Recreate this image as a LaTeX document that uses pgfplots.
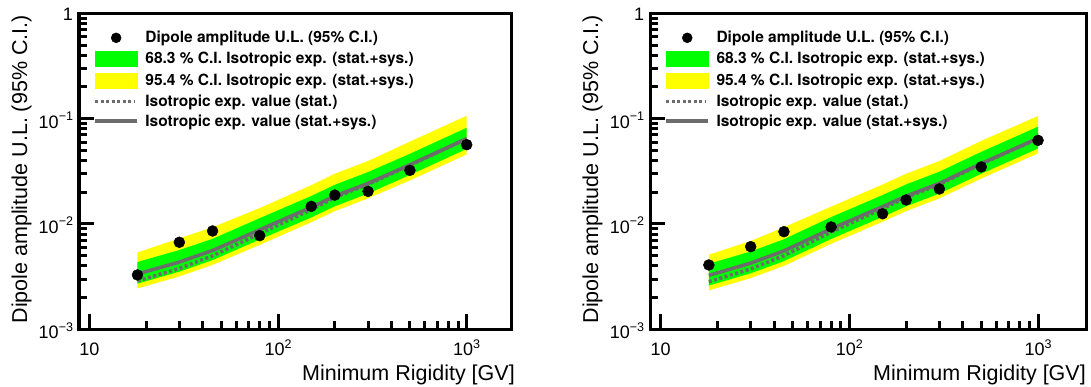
\documentclass[border=0pt]{standalone}
\usepackage{fontspec}
\setmainfont{Liberation Sans}
\newfontfamily\legfamily{TeX Gyre Heros}
\usepackage{pgfplots}
\usepackage{pgfplotstable}
\pgfplotsset{compat=1.18}

\definecolor{rgreen}{RGB}{0,255,0}
\definecolor{ryellow}{RGB}{255,255,0}
\definecolor{rgray}{RGB}{108,108,108}

\newcommand{\ticksfont}{\fontsize{18bp}{18bp}\selectfont}
\newcommand{\labfont}{\fontsize{21.5bp}{21.5bp}\selectfont}
\newcommand{\legfont}{\legfamily\fontsize{15.5bp}{15.5bp}\selectfont\bfseries}
\newcommand{\ex}[1]{\raisebox{7.5bp}{\fontsize{12.5bp}{12.5bp}\selectfont #1}}

% lines and points
\pgfplotstableread{
x    L        D        pt
18   3.35e-3  2.88e-3  3.28e-3
30   4.35e-3  3.78e-3  6.70e-3
45   5.60e-3  4.98e-3  8.58e-3
80   8.80e-3  8.10e-3  7.75e-3
150  1.44e-2  1.368e-2 1.47e-2
200  1.84e-2  1.785e-2 1.88e-2
300  2.43e-2  2.38e-2  2.04e-2
500  3.65e-2  3.61e-2  3.23e-2
1000 6.45e-2  6.45e-2  5.66e-2
}\lefttab
\pgfplotstableread{
x    y
18   5.36e-3
30   7.30e-3
45   9.30e-3
80   1.417e-2
150  2.333e-2
200  2.999e-2
300  3.961e-2
500  6.05e-2
1000 1.064e-1
1000 4.580e-2
500  2.592e-2
300  1.750e-2
200  1.325e-2
150  1.037e-2
80   6.336e-3
45   4.088e-3
30   3.176e-3
18   2.446e-3
}\leftyellow
\pgfplotstableread{
x    y
18   4.355e-3
30   5.655e-3
45   7.224e-3
80   1.135e-2
150  1.843e-2
200  2.355e-2
300  3.110e-2
500  4.636e-2
1000 8.192e-2
1000 5.160e-2
500  2.920e-2
300  1.944e-2
200  1.472e-2
150  1.152e-2
80   7.128e-3
45   4.536e-3
30   3.524e-3
18   2.714e-3
}\leftgreen

\pgfplotstableread{
x    L        D        pt
18   3.25e-3  2.83e-3  4.08e-3
30   4.25e-3  3.74e-3  6.09e-3
45   5.55e-3  5.00e-3  8.45e-3
80   9.00e-3  8.37e-3  9.37e-3
150  1.46e-2  1.40e-2  1.25e-2
200  1.84e-2  1.785e-2 1.69e-2
300  2.43e-2  2.38e-2  2.15e-2
500  3.75e-2  3.71e-2  3.48e-2
1000 6.50e-2  6.50e-2  6.22e-2
}\righttab
\pgfplotstableread{
x    y
18   5.10e-3
30   6.90e-3
45   9.30e-3
80   1.46e-2
150  2.37e-2
200  3.00e-2
300  3.96e-2
500  6.15e-2
1000 1.06e-1
1000 4.68e-2
500  2.70e-2
300  1.75e-2
200  1.325e-2
150  1.051e-2
80   6.48e-3
45   4.00e-3
30   3.06e-3
18   2.34e-3
}\rightyellow
\pgfplotstableread{
x    y
18   4.19e-3
30   5.48e-3
45   7.16e-3
80   1.161e-2
150  1.883e-2
200  2.374e-2
300  3.135e-2
500  4.838e-2
1000 8.39e-2
1000 5.20e-2
500  3.00e-2
300  1.944e-2
200  1.472e-2
150  1.168e-2
80   7.20e-3
45   4.44e-3
30   3.40e-3
18   2.60e-3
}\rightgreen

\begin{document}
\begin{tikzpicture}
\path[use as bounding box] (0,0) rectangle (1091bp,387bp);

\begin{axis}[at={(79.2bp,57.7bp)}, anchor=south west,
    width=432.5bp, xmin=8.84, xmax=1732,
    xmode=log, ymode=log, scale only axis, height=316bp,
    ymin=1e-3, ymax=1,
    axis line style={line width=3.5bp, black},
    tick pos=left, tick align=inside,
    major tick length=15bp, minor tick length=8bp,
    every tick/.append style={black, line width=3bp},
    xtick={10,100,1000},
    xticklabels={10,10\ex{2},10\ex{3}},
    minor xtick={20,30,40,50,60,70,80,90,200,300,400,500,600,700,800,900},
    ytick={0.001,0.01,0.1,1},
    yticklabels={10\ex{−3},10\ex{−2},10\ex{−1},1},
    minor ytick={0.002,0.003,0.004,0.005,0.006,0.007,0.008,0.009,0.02,0.03,0.04,0.05,0.06,0.07,0.08,0.09,0.2,0.3,0.4,0.5,0.6,0.7,0.8,0.9},
    xticklabel style={anchor=base, inner sep=0pt, yshift=-26.4bp, font=\ticksfont},
    yticklabel style={anchor=east, inner sep=0pt, xshift=-6bp, yshift=-1.5bp, font=\ticksfont},
    legend cell align=left,
    legend style={at={(rel axis cs:0,1)}, anchor=north west,
      xshift=14bp, yshift=-17.8bp, draw=none, fill=none,
      inner sep=0pt, row sep=6.8bp, column sep=6.5bp, font=\legfont,
      nodes={inner sep=0pt, font=\legfont}},
  ]
  \addlegendimage{legend image code/.code={\fill[black] (21bp,0bp) circle (5bp);}}
  \addlegendentry{\legfont Dipole amplitude U.L. (95\% C.I.)}
  \addlegendimage{legend image code/.code={\fill[rgreen] (0bp,-7.3bp) rectangle (42bp,7.3bp);}}
  \addlegendentry{\legfont 68.3 \% C.I. Isotropic exp. (stat.+sys.)}
  \addlegendimage{legend image code/.code={\fill[ryellow] (0bp,-7.3bp) rectangle (42bp,7.3bp);}}
  \addlegendentry{\legfont 95.4 \% C.I. Isotropic exp. (stat.+sys.)}
  \addlegendimage{legend image code/.code={\draw[rgray, line width=3.5bp, dash pattern=on 3bp off 2.5bp] (0bp,0bp) -- (40bp,0bp);}}
  \addlegendentry{\legfont Isotropic exp. value (stat.)}
  \addlegendimage{legend image code/.code={\draw[rgray, line width=3.5bp] (0bp,0bp) -- (42bp,0bp);}}
  \addlegendentry{\legfont Isotropic exp. value (stat.+sys.)}
  \addplot[fill=ryellow, draw=none, forget plot] table[x=x, y=y] {\leftyellow};
  \addplot[fill=rgreen, draw=none, forget plot] table[x=x, y=y] {\leftgreen};
  \addplot[rgray, line width=3.5bp, dash pattern=on 3bp off 2.5bp, forget plot] table[x=x, y=D] {\lefttab};
  \addplot[rgray, line width=3.5bp, forget plot] table[x=x, y=L] {\lefttab};
  \addplot[only marks, mark=*, mark size=5.5bp, black, forget plot] table[x=x, y=pt] {\lefttab};
\end{axis}

\begin{axis}[at={(650.3bp,57.7bp)}, anchor=south west,
    width=436.4bp, xmin=8.81, xmax=1811,
    xmode=log, ymode=log, scale only axis, height=316bp,
    ymin=1e-3, ymax=1,
    axis line style={line width=3.5bp, black},
    tick pos=left, tick align=inside,
    major tick length=15bp, minor tick length=8bp,
    every tick/.append style={black, line width=3bp},
    xtick={10,100,1000},
    xticklabels={10,10\ex{2},10\ex{3}},
    minor xtick={20,30,40,50,60,70,80,90,200,300,400,500,600,700,800,900},
    ytick={0.001,0.01,0.1,1},
    yticklabels={10\ex{−3},10\ex{−2},10\ex{−1},1},
    minor ytick={0.002,0.003,0.004,0.005,0.006,0.007,0.008,0.009,0.02,0.03,0.04,0.05,0.06,0.07,0.08,0.09,0.2,0.3,0.4,0.5,0.6,0.7,0.8,0.9},
    xticklabel style={anchor=base, inner sep=0pt, yshift=-26.4bp, font=\ticksfont},
    yticklabel style={anchor=east, inner sep=0pt, xshift=-6bp, yshift=-1.5bp, font=\ticksfont},
    legend cell align=left,
    legend style={at={(rel axis cs:0,1)}, anchor=north west,
      xshift=14bp, yshift=-17.8bp, draw=none, fill=none,
      inner sep=0pt, row sep=6.8bp, column sep=6.5bp, font=\legfont,
      nodes={inner sep=0pt, font=\legfont}},
  ]
  \addlegendimage{legend image code/.code={\fill[black] (21bp,0bp) circle (5bp);}}
  \addlegendentry{\legfont Dipole amplitude U.L. (95\% C.I.)}
  \addlegendimage{legend image code/.code={\fill[rgreen] (0bp,-7.3bp) rectangle (42bp,7.3bp);}}
  \addlegendentry{\legfont 68.3 \% C.I. Isotropic exp. (stat.+sys.)}
  \addlegendimage{legend image code/.code={\fill[ryellow] (0bp,-7.3bp) rectangle (42bp,7.3bp);}}
  \addlegendentry{\legfont 95.4 \% C.I. Isotropic exp. (stat.+sys.)}
  \addlegendimage{legend image code/.code={\draw[rgray, line width=3.5bp, dash pattern=on 3bp off 2.5bp] (0bp,0bp) -- (40bp,0bp);}}
  \addlegendentry{\legfont Isotropic exp. value (stat.)}
  \addlegendimage{legend image code/.code={\draw[rgray, line width=3.5bp] (0bp,0bp) -- (42bp,0bp);}}
  \addlegendentry{\legfont Isotropic exp. value (stat.+sys.)}
  \addplot[fill=ryellow, draw=none, forget plot] table[x=x, y=y] {\rightyellow};
  \addplot[fill=rgreen, draw=none, forget plot] table[x=x, y=y] {\rightgreen};
  \addplot[rgray, line width=3.5bp, dash pattern=on 3bp off 2.5bp, forget plot] table[x=x, y=D] {\righttab};
  \addplot[rgray, line width=3.5bp, forget plot] table[x=x, y=L] {\righttab};
  \addplot[only marks, mark=*, mark size=5.5bp, black, forget plot] table[x=x, y=pt] {\righttab};
\end{axis}

\node[font=\labfont, inner sep=0pt, anchor=base east] at (515bp,7bp) {Minimum Rigidity [GV]};
\node[font=\labfont, inner sep=0pt, anchor=base east] at (1086bp,7bp) {Minimum Rigidity [GV]};
\node[font=\labfont, inner sep=0pt, anchor=base east, rotate=90] at (27bp,372bp) {Dipole amplitude U.L. (95\% C.I.)};
\node[font=\labfont, inner sep=0pt, anchor=base east, rotate=90] at (598bp,372bp) {Dipole amplitude U.L. (95\% C.I.)};
\end{tikzpicture}
\end{document}
